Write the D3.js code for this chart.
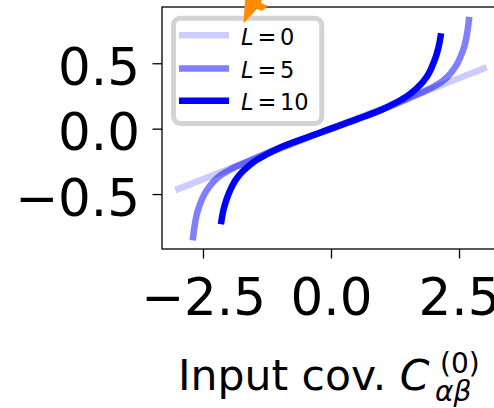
<!DOCTYPE html>
<meta charset="utf-8">
<title>Output vs input covariance</title>
<body>
<script src="https://cdn.jsdelivr.net/npm/d3@7"></script>
<style>
  html, body {
    width: 100%;
    height: 100%;
    margin: 0;
    overflow: hidden;
    background: #fff;
  }
  text { font-family: "DejaVu Sans", sans-serif; fill: #000; }
</style>
<script>
  // values
  var xL0  = [-3.04, 3.04],
      yL0  = [-0.47, 0.47];
  var xL5  = [-2.70, -2.67, -2.63, -2.56, -2.47, -2.35, -2.2, -2.0, -1.7, -1.3, -0.8, 0, 0.8, 1.3, 1.7, 2.0, 2.2, 2.35, 2.47, 2.56, 2.63, 2.67, 2.70],
      yL5  = [-0.855, -0.76, -0.67, -0.58, -0.50, -0.43, -0.37, -0.32, -0.264, -0.195, -0.118, 0, 0.118, 0.195, 0.264, 0.32, 0.37, 0.43, 0.50, 0.58, 0.67, 0.76, 0.855];
  var xL10 = [-2.15, -2.11, -2.06, -2.0, -1.92, -1.8, -1.65, -1.5, -1.25, -1.0, -0.5, 0, 0.5, 1.0, 1.25, 1.5, 1.65, 1.8, 1.92, 2.0, 2.06, 2.11, 2.15],
      yL10 = [-0.73, -0.64, -0.565, -0.50, -0.43, -0.36, -0.30, -0.252, -0.195, -0.146, -0.071, 0, 0.071, 0.146, 0.195, 0.252, 0.30, 0.36, 0.43, 0.50, 0.565, 0.64, 0.73];
  var seriesL = ["0", "5", "10"],
      seriesAlpha = [0.2, 0.5, 1];
  var xTicks = [-2.5, 0, 2.5],
      yTicks = [-0.5, 0, 0.5];

  var series = [
    {L: seriesL[0], alpha: seriesAlpha[0], pts: d3.zip(xL0, yL0)},
    {L: seriesL[1], alpha: seriesAlpha[1], pts: d3.zip(xL5, yL5)},
    {L: seriesL[2], alpha: seriesAlpha[2], pts: d3.zip(xL10, yL10)}
  ];

  var fmt = function(d) { return d3.format(".1f")(d).replace("-", "\u2212"); };

  var svg = d3.select("body").append("svg")
    .attr("width", 494)
    .attr("height", 408);

  var m = {left: 162, right: 500, top: 7, bottom: 249};

  var x = d3.scaleLinear().domain([-3.3, 3.3]).range([m.left, m.right]),
      y = d3.scaleLinear().domain([-0.92, 0.93]).range([m.bottom, m.top]);

  var line = d3.line()
    .x(function(d) { return x(d[0]); })
    .y(function(d) { return y(d[1]); })
    .curve(d3.curveMonotoneX);

  svg.append("g").selectAll("path")
    .data(series)
    .enter().append("path")
    .attr("d", function(d) { return line(d.pts); })
    .attr("fill", "none")
    .attr("stroke", "#0000ff")
    .attr("stroke-opacity", function(d) { return d.alpha; })
    .attr("stroke-width", 6.5);

  // frame
  svg.append("rect")
    .attr("x", m.left).attr("y", m.top)
    .attr("width", m.right - m.left).attr("height", m.bottom - m.top)
    .attr("fill", "none")
    .attr("stroke", "#000")
    .attr("stroke-width", 1.3);

  var xAxis = svg.append("g")
    .attr("transform", "translate(0," + m.bottom + ")")
    .call(d3.axisBottom(x).tickValues(xTicks).tickFormat(fmt).tickSize(9.5).tickSizeOuter(0));
  xAxis.select(".domain").remove();
  xAxis.selectAll("line").attr("stroke-width", 1.3);
  xAxis.selectAll("text")
    .attr("y", 66).attr("dy", 0)
    .style("font-size", "51.5px")
    .style("font-family", "DejaVu Sans");

  var yAxis = svg.append("g")
    .attr("transform", "translate(" + m.left + ",0)")
    .call(d3.axisLeft(y).tickValues(yTicks).tickFormat(fmt).tickSize(9.5).tickSizeOuter(0));
  yAxis.select(".domain").remove();
  yAxis.selectAll("line").attr("stroke-width", 1.3);
  yAxis.selectAll("text")
    .attr("x", -22).attr("dy", 21)
    .style("font-size", "51.5px")
    .style("font-family", "DejaVu Sans");

  // x label
  var lab = svg.append("text")
    .attr("x", 178).attr("y", 390)
    .style("font-size", "42.5px");
  lab.append("tspan").text("Input cov. ");
  lab.append("tspan").style("font-style", "italic").text("C");
  svg.append("text").attr("x", 440).attr("y", 373)
    .style("font-size", "28px").text("(0)");
  svg.append("text").attr("x", 435).attr("y", 401)
    .style("font-size", "28px").style("font-style", "italic").text("\u03b1\u03b2");

  // legend
  var lg = svg.append("g");
  lg.append("rect")
    .attr("x", 173.5).attr("y", 18.2)
    .attr("width", 148.3).attr("height", 105.3)
    .attr("rx", 7)
    .attr("fill", "#fff")
    .attr("stroke", "#d3d3d3")
    .attr("stroke-width", 5);
  var rows = lg.selectAll("g.row")
    .data(series)
    .enter().append("g")
    .attr("class", "row")
    .attr("transform", function(d, i) { return "translate(0," + [35.3, 68.5, 100.7][i] + ")"; });
  rows.append("line")
    .attr("x1", 179).attr("x2", 229)
    .attr("stroke", "#0000ff")
    .attr("stroke-opacity", function(d) { return d.alpha; })
    .attr("stroke-width", 6.5);
  rows.append("text")
    .attr("x", 241).attr("y", 9.5)
    .style("font-size", "22.5px").style("font-style", "italic")
    .text("L");
  rows.append("text")
    .attr("x", 257.5).attr("y", 9.5)
    .style("font-size", "22.5px")
    .text("=");
  rows.append("text")
    .attr("x", 280).attr("y", 9.5)
    .style("font-size", "22.5px")
    .text(function(d) { return d.L; });

  // orange arrow head peeking in from above
  svg.append("path")
    .attr("d", "M243.5,23.5 L245,0 L262,0 L261,3 L268,6 L262,11 L257,9 Z")
    .attr("fill", "#ff8c00");
</script>
